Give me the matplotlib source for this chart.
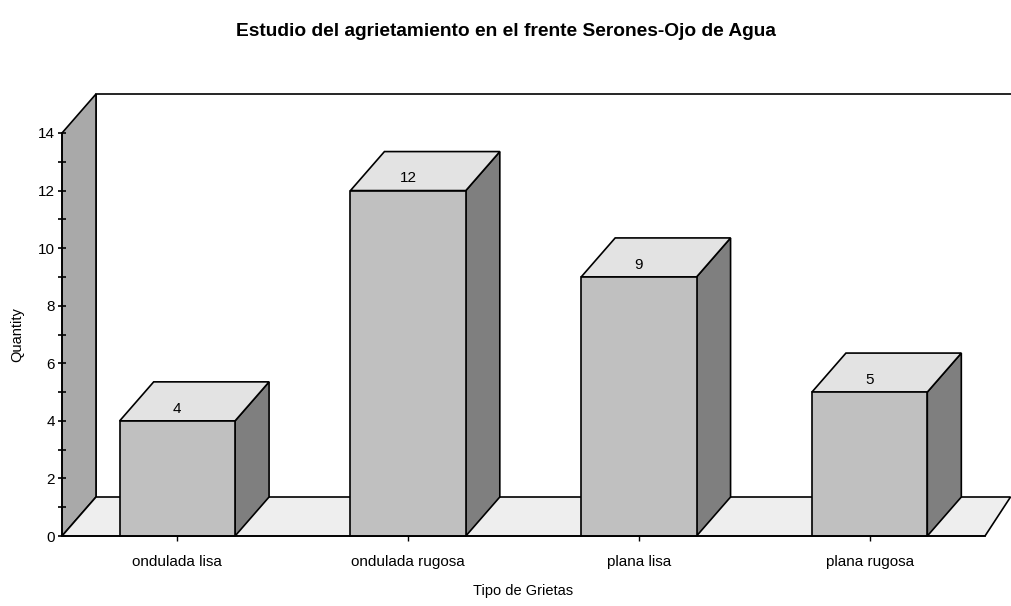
import matplotlib
matplotlib.use("Agg")
import matplotlib.pyplot as plt
from matplotlib.patches import Polygon
from matplotlib.ticker import MultipleLocator

categories = ["ondulada lisa", "ondulada rugosa", "plana lisa", "plana rugosa"]
values = [4, 12, 9, 5]
title = "Estudio del agrietamiento en el frente Serones-Ojo de Agua"
xlabel = "Tipo de Grietas"
ylabel = "Quantity"

plt.rcParams['font.family'] = ['Liberation Sans', 'DejaVu Sans']

fig = plt.figure(figsize=(10.12, 6.06), dpi=100, facecolor='white')
# front plane of the 3D box: x 62..985 px, y 536..133 px
ax = fig.add_axes([62 / 1012, 1 - 536 / 606, 923 / 1012, 403 / 606])
ax.set_xlim(-0.5, len(categories) - 0.5)
ax.set_ylim(0, 14)
ax.patch.set_alpha(0)

# depth offset in data units (34 px right, 39 px up)
dx = 34 / 923 * len(categories)
dy = 39 / 403 * 14
x0, x1 = -0.5, len(categories) - 0.5
far = x1 + 1.0

# back wall, left wall, floor
ax.add_patch(Polygon([(x0 + dx, dy), (x0 + dx, 14 + dy), (far, 14 + dy), (far, dy)],
                     closed=False, fc='white', ec='black', lw=1.2, clip_on=False, zorder=0))
ax.add_patch(Polygon([(x0, 0), (x0, 14), (x0 + dx, 14 + dy), (x0 + dx, dy)],
                     fc='#a9a9a9', ec='black', lw=1.2, clip_on=False, zorder=1))
ax.add_patch(Polygon([(x0, 0), (x1, 0), (x1 + dx * 0.75, dy), (x0 + dx, dy)],
                     fc='#eeeeee', ec='black', lw=1.2, clip_on=False, zorder=1))

w = 0.5
for i, v in enumerate(values):
    l, r = i - w / 2, i + w / 2
    ax.add_patch(Polygon([(r, 0), (r + dx, dy), (r + dx, v + dy), (r, v)],
                         fc='#7f7f7f', ec='black', lw=1.2, clip_on=False, zorder=2))
    ax.add_patch(Polygon([(l, v), (r, v), (r + dx, v + dy), (l + dx, v + dy)],
                         fc='#e3e3e3', ec='black', lw=1.2, clip_on=False, zorder=2))
    ax.add_patch(Polygon([(l, 0), (r, 0), (r, v), (l, v)],
                         fc='#c0c0c0', ec='black', lw=1.2, clip_on=False, zorder=3))
    ax.text(i, v + 0.42, str(v), ha='center', va='center', fontsize=11, zorder=4)

for s in ['top', 'right']:
    ax.spines[s].set_visible(False)
for s in ['left', 'bottom']:
    ax.spines[s].set_linewidth(1.2)
    ax.spines[s].set_zorder(5)

ax.set_xticks(range(len(categories)))
ax.set_xticklabels(categories, fontsize=11)
ax.yaxis.set_major_locator(MultipleLocator(2))
ax.yaxis.set_minor_locator(MultipleLocator(1))
ax.tick_params(axis='y', which='both', direction='inout', length=6, width=1.2, labelsize=11, pad=2)
ax.tick_params(axis='x', direction='inout', length=7, width=1, pad=10)

ax.set_xlabel(xlabel, fontsize=10.5, labelpad=11)
ax.set_ylabel(ylabel, fontsize=10.5, labelpad=10)

fig.text(0.5, 1 - 32 / 606, title, ha='center', va='center', fontsize=13.8, fontweight='bold',
         family=['Liberation Sans Narrow', 'Liberation Sans', 'DejaVu Sans'])

fig.savefig('out.png', dpi=100, facecolor='white')
